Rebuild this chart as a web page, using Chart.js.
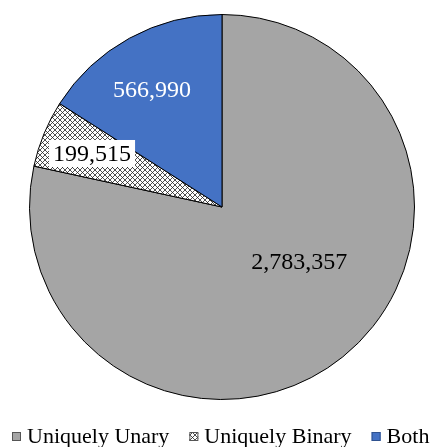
<!DOCTYPE html>
<html>
<head>
<meta charset="utf-8">
<script src="https://cdn.jsdelivr.net/npm/chart.js@4/dist/chart.umd.min.js"></script>
<style>
html,body{margin:0;padding:0;background:#fff;}
#wrap{width:438px;height:447px;position:relative;}
</style>
</head>
<body>
<div id="wrap"><canvas id="c" width="438" height="447"></canvas></div>
<script>
const categories = ["Uniquely Unary", "Uniquely Binary", "Both"];
const values = [2783357, 199515, 566990];
const valueLabels = ["2,783,357", "199,515", "566,990"];

function hatch() {
  const s = 5;
  const cv = document.createElement('canvas');
  cv.width = s; cv.height = s;
  const g = cv.getContext('2d');
  g.fillStyle = '#fff';
  g.fillRect(0, 0, s, s);
  g.strokeStyle = '#222';
  g.lineWidth = 0.8;
  g.beginPath();
  g.moveTo(-1, -1); g.lineTo(s + 1, s + 1);
  g.moveTo(-1, s + 1); g.lineTo(s + 1, -1);
  g.stroke();
  return g.createPattern(cv, 'repeat');
}
const ctx0 = document.getElementById('c').getContext('2d');
const fills = ['#A5A5A5', hatch(), '#4472C4'];
const legendBorders = ['#555', '#555', '#2F528F'];

// label placement style: radial fraction and angular shift (degrees)
const labelStyle = [
  {f: 0.49, shift: -16, color: '#000', box: false},
  {f: 0.73, shift: 0, color: '#000', box: true},
  {f: 0.71, shift: -2, color: '#fff', box: false}
];

const labelPlugin = {
  id: 'sliceLabels',
  afterDatasetsDraw(chart) {
    const ctx = chart.ctx;
    const meta = chart.getDatasetMeta(0);
    ctx.save();
    ctx.font = '24px "Liberation Serif", serif';
    ctx.textAlign = 'center';
    ctx.textBaseline = 'middle';
    meta.data.forEach((arc, i) => {
      const st = labelStyle[i];
      const mid = (arc.startAngle + arc.endAngle) / 2 + st.shift * Math.PI / 180;
      const r = arc.outerRadius * st.f;
      const x = arc.x + Math.cos(mid) * r;
      const y = arc.y + Math.sin(mid) * r;
      const t = valueLabels[i];
      if (st.box) {
        const w = ctx.measureText(t).width + 8;
        ctx.fillStyle = '#fff';
        ctx.fillRect(x - w / 2, y - 13.5, w, 27);
      }
      ctx.fillStyle = st.color;
      ctx.fillText(t, x, y + 1);
    });
    ctx.restore();
  }
};

const legendPlugin = {
  id: 'bottomLegend',
  afterDraw(chart) {
    const ctx = chart.ctx;
    ctx.save();
    ctx.font = '22px "Liberation Serif", serif';
    ctx.textBaseline = 'alphabetic';
    let x = 12;
    const base = 443;
    categories.forEach((c, i) => {
      ctx.fillStyle = fills[i];
      ctx.fillRect(x, 432, 9, 9);
      ctx.strokeStyle = legendBorders[i];
      ctx.lineWidth = 1;
      ctx.strokeRect(x + 0.5, 432.5, 8, 8);
      ctx.fillStyle = '#000';
      ctx.fillText(c, x + 15, base);
      x += 15 + ctx.measureText(c).width + 20;
    });
    ctx.restore();
  }
};

new Chart(ctx0, {
  type: 'pie',
  data: {
    labels: categories,
    datasets: [{
      data: values,
      backgroundColor: fills,
      borderColor: '#000',
      borderWidth: 1
    }]
  },
  options: {
    responsive: false,
    animation: false,
    layout: {padding: {top: 14, bottom: 47, left: 6, right: 0}},
    plugins: {legend: {display: false}, tooltip: {enabled: false}}
  },
  plugins: [labelPlugin, legendPlugin]
});
</script>
</body>
</html>
